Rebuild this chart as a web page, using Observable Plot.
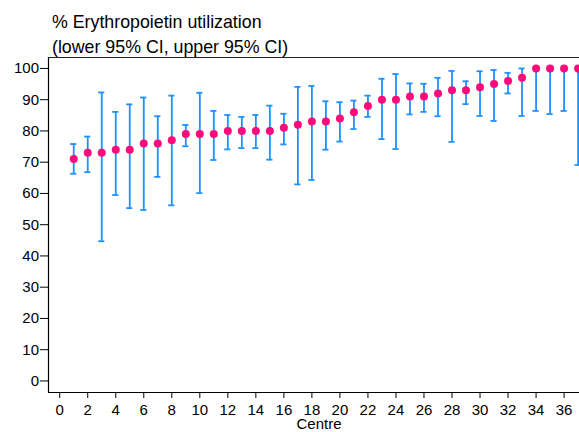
<!DOCTYPE html>
<html>
<head>
<meta charset="utf-8">
<script src="https://cdn.jsdelivr.net/npm/d3@7"></script>
<script src="https://cdn.jsdelivr.net/npm/@observablehq/plot@0.6"></script>
<style>
  html, body { margin: 0; padding: 0; background: #fff; }
  #wrap { position: relative; width: 579px; height: 432px; overflow: hidden; font-family: "Liberation Sans", Arial, sans-serif; }
  #title { position: absolute; left: 52px; top: 10px; font-size: 17.8px; line-height: 24.5px; color: #000; z-index: 2; white-space: nowrap; }
  #chart { position: absolute; left: 0; top: 0; z-index: 1; }
  #chart svg text { font-family: "Liberation Sans", Arial, sans-serif; }
</style>
</head>
<body>
<div id="wrap">
  <div id="title">% Erythropoietin utilization<br>(lower 95% CI, upper 95% CI)</div>
  <div id="chart"></div>
</div>
<script>
const centres = [1,2,3,4,5,6,7,8,9,10,11,12,13,14,15,16,17,18,19,20,21,22,23,24,25,26,27,28,29,30,31,32,33,34,35,36,37];
const utilization = [71,73,73,74,74,76,76,77,79,79,79,80,80,80,80,81,82,83,83,84,86,88,90,90,91,91,92,93,93,94,95,96,97,100,100,100,100];
const lowerCI = [66.3,66.8,44.7,59.5,55.3,54.7,65.3,56.2,75.1,60.1,70.7,74.1,74.5,74.5,70.8,75.7,62.9,64.3,74.0,76.6,80.6,84.5,77.4,74.2,85.3,86.1,84.7,76.5,88.6,84.8,83.2,92.0,84.8,86.4,85.4,86.4,69.1];
const upperCI = [75.8,78.2,92.3,86.1,88.5,90.7,84.7,91.3,81.9,92.2,86.4,85.1,84.5,85.1,88.1,85.5,94.1,94.4,89.5,89.2,89.7,91.3,96.7,98.2,95.2,95.1,97.0,99.2,95.9,99.1,99.5,98.6,100,100,100,100,100];
const xTicks = d3.range(0, 37, 2);
const yTicks = d3.range(0, 101, 10);

const data = centres.map((c, i) => ({centre: c, value: utilization[i], lo: lowerCI[i], hi: upperCI[i]}));
const xDomain = [-0.8, 37.1];
const yDomain = [-3.7, 103.5];
const capHalf = 0.22;
const barColor = "#1E90FF";
const dotColor = "#FF0A7A";
const font = "'Liberation Sans', Arial, sans-serif";

const plot = Plot.plot({
  width: 579,
  height: 432,
  marginLeft: 48,
  marginRight: 0,
  marginTop: 57,
  marginBottom: 40,
  style: {fontFamily: font, fontSize: "15px", color: "#000", background: "transparent"},
  x: {domain: xDomain},
  y: {domain: yDomain},
  marks: [
    Plot.axisX({ticks: xTicks, tickSize: 6, tickPadding: 6, fontSize: 15, label: null, stroke: "#000"}),
    Plot.axisY({ticks: yTicks, tickSize: 8, tickPadding: 1.5, fontSize: 15, label: null, stroke: "#000"}),
    Plot.ruleY([yDomain[1]], {stroke: "#222", strokeWidth: 1.2}),
    Plot.ruleY([yDomain[0]], {stroke: "#000", strokeWidth: 1.2}),
    Plot.ruleX([xDomain[0]], {stroke: "#000", strokeWidth: 1.2}),
    Plot.ruleX(data, {x: "centre", y1: "lo", y2: "hi", stroke: barColor, strokeWidth: 1.8}),
    Plot.ruleY(data, {y: "hi", x1: d => d.centre - capHalf, x2: d => d.centre + capHalf, stroke: barColor, strokeWidth: 1.8}),
    Plot.ruleY(data, {y: "lo", x1: d => d.centre - capHalf, x2: d => d.centre + capHalf, stroke: barColor, strokeWidth: 1.8}),
    Plot.dot(data, {x: "centre", y: "value", r: 4, fill: dotColor, stroke: "none"}),
    Plot.text(["Centre"], {frameAnchor: "bottom", dy: 36, dx: 5, fontSize: 15, fill: "#000"})
  ]
});
document.getElementById("chart").appendChild(plot);
</script>
</body>
</html>
